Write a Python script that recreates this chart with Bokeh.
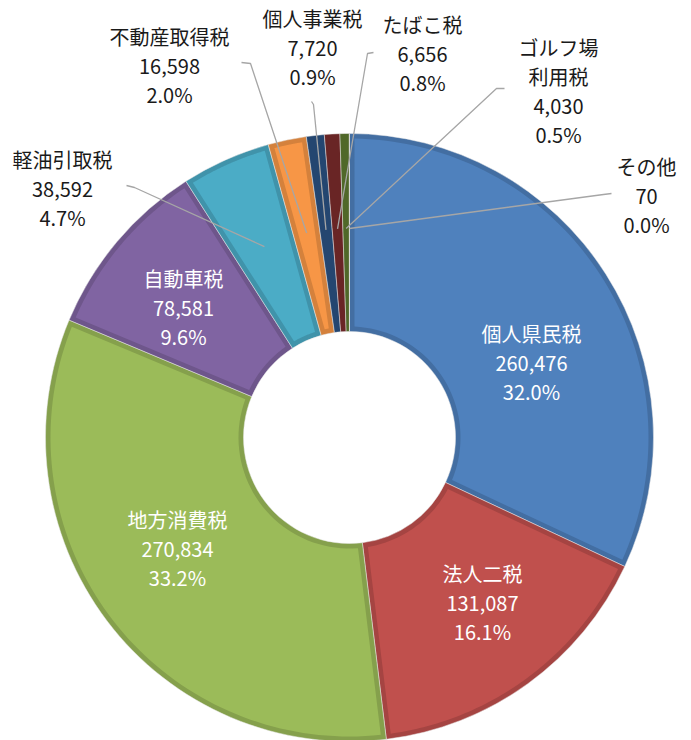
import numpy as np
from bokeh.plotting import figure
from bokeh.models import Range1d, ColumnDataSource
from bokeh.core.properties import value
from bokeh.embed import file_html
from bokeh.resources import INLINE

# ---------------- data ----------------
categories = ["個人県民税", "法人二税", "地方消費税", "自動車税", "軽油引取税",
              "不動産取得税", "個人事業税", "たばこ税", "ゴルフ場利用税", "その他"]
label_names = ["個人県民税", "法人二税", "地方消費税", "自動車税", "軽油引取税",
               "不動産取得税", "個人事業税", "たばこ税", "ゴルフ場\n利用税", "その他"]
values = [260476, 131087, 270834, 78581, 38592, 16598, 7720, 6656, 4030, 70]

# ---------------- styles ----------------
colors = ["#4F81BD", "#C0504D", "#9BBB59", "#8064A2", "#4BACC6",
          "#F79646", "#2B5283", "#7B2C2C", "#5E7A30", "#4D3B62"]
inside = [True, True, True, True, False, False, False, False, False, False]

# label block centres (screen px) – layout only
label_pos = [(531, 362), (482, 602), (177, 548), (183, 307), (62, 188),
             (169, 65), (312, 47), (422, 53), (558, 90), (646, 195)]
# leader line starting points (screen px) – layout only
leader_start = {
    4: [(126, 185), (134, 187)],
    5: [(241, 62), (250, 63)],
    6: [(311, 101), (313, 104)],
    7: [(373, 52), (367, 53)],
    8: [(504, 88), (496, 88)],
    9: [(611, 193), (603, 194)],
}

W, H = 691, 740
CX, CY = 349, 437
R_OUT, R_IN, BAND = 304, 106, 5
R_LEAD = 209


def darker(hexcol, f=0.86):
    h = hexcol.lstrip("#")
    r, g, b = (int(h[i:i + 2], 16) for i in (0, 2, 4))
    return "#%02x%02x%02x" % (int(r * f), int(g * f), int(b * f))


def to_data(sx, sy):
    return sx - CX, CY - sy


vals = np.array(values, dtype=float)
total = vals.sum()
frac = vals / total
cum_end = np.cumsum(frac)
cum_start = cum_end - frac
start_ang = np.pi / 2 - 2 * np.pi * cum_end
end_ang = np.pi / 2 - 2 * np.pi * cum_start
mid_ang = (start_ang + end_ang) / 2

p = figure(width=W, height=H, output_backend="svg", toolbar_location=None,
           x_range=Range1d(-CX, W - CX), y_range=Range1d(CY - H, CY),
           min_border=0)
p.axis.visible = False
p.grid.visible = False
p.outline_line_color = None
p.background_fill_color = "white"
p.border_fill_color = "white"

# base wedges (darker edge colour)
src = ColumnDataSource(dict(cat=categories, start=start_ang, end=end_ang,
                            fill=[darker(c) for c in colors]))
p.annular_wedge(x=0, y=0, inner_radius=R_IN, outer_radius=R_OUT,
                start_angle="start", end_angle="end", source=src,
                fill_color="fill", line_color="#E8E8E8", line_width=0.5,
                direction="anticlock")

# lighter inset patches (bevel look)
pxs, pys, pcs = [], [], []
ro, ri = R_OUT - BAND, R_IN + BAND
for i in range(len(values)):
    a0, a1 = start_ang[i], end_ang[i]
    do, di = np.arcsin(BAND / ro), np.arcsin(BAND / ri)
    if a1 - a0 <= 2 * di + 0.01:
        continue
    t_out = np.linspace(a0 + do, a1 - do, 80)
    t_in = np.linspace(a1 - di, a0 + di, 40)
    xs = np.concatenate([ro * np.cos(t_out), ri * np.cos(t_in)])
    ys = np.concatenate([ro * np.sin(t_out), ri * np.sin(t_in)])
    pxs.append(list(xs)); pys.append(list(ys)); pcs.append(colors[i])
p.patches(xs=pxs, ys=pys, fill_color=pcs, line_color=None)

# leader lines
lx, ly = [], []
for i, pts in leader_start.items():
    ex = R_LEAD * np.cos(mid_ang[i])
    ey = R_LEAD * np.sin(mid_ang[i])
    dp = [to_data(*q) for q in pts]
    lx.append([q[0] for q in dp] + [ex])
    ly.append([q[1] for q in dp] + [ey])
p.multi_line(xs=lx, ys=ly, line_color="#A6A6A6", line_width=1.3)

# labels
texts, tx, ty, tc = [], [], [], []
for i in range(len(values)):
    pct = values[i] / total * 100
    texts.append(f"{label_names[i]}\n{values[i]:,}\n{pct:.1f}%")
    x, y = to_data(*label_pos[i])
    tx.append(x); ty.append(y)
    tc.append("white" if inside[i] else "#1a1a1a")
p.text(x=tx, y=ty, text=texts, text_color=tc,
       text_font=value("Noto Sans CJK JP"), text_font_size="20px",
       text_align="center", text_baseline="middle", text_line_height=1.0)

open("out.html", "w").write(file_html(p, INLINE))
